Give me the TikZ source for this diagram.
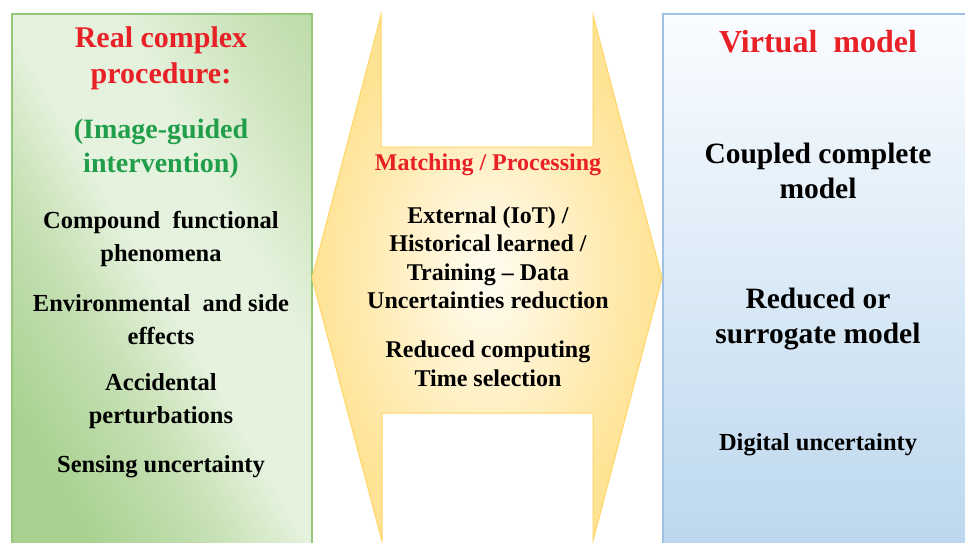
\documentclass[tikz,border=0pt]{standalone}
\usepackage{fontspec}
\setmainfont{Liberation Serif}
\usepackage{tikz}
\usetikzlibrary{positioning}
\definecolor{greenDark}{rgb}{0.66,0.82,0.56}
\definecolor{greenMid}{rgb}{0.78,0.88,0.71}
\definecolor{greenLight}{rgb}{0.90,0.95,0.87}
\definecolor{greenBorder}{rgb}{0.58,0.78,0.48}
\definecolor{blueTop}{rgb}{0.98,0.99,1}
\definecolor{blueBottom}{rgb}{0.73,0.84,0.93}
\definecolor{blueBorder}{rgb}{0.62,0.76,0.90}
\definecolor{yellowIn}{rgb}{1,0.99,0.95}
\definecolor{yellowOut}{rgb}{1,0.89,0.58}
\definecolor{yellowBorder}{rgb}{1,0.84,0.40}
\definecolor{titleRed}{rgb}{0.91,0.13,0.15}
\definecolor{titleGreen}{rgb}{0.13,0.62,0.29}
\pgfdeclarehorizontalshading{greenBand}{100bp}{color(0bp)=(greenDark); color(25bp)=(greenDark); color(40bp)=(greenMid); color(50bp)=(greenLight); color(62bp)=(greenLight); color(78bp)=(greenMid); color(100bp)=(greenDark)}

\begin{document}
\begin{tikzpicture}[x=1pt,y=-1pt]

            \tikzstyle{redTitle} = [align=center, titleRed, font=\bfseries\fontsize{30}{36}\selectfont];
            \tikzstyle{greenTitle} = [align=center, titleGreen, font=\bfseries\fontsize{28}{34}\selectfont];
            \tikzstyle{leftText} = [align=center, black, font=\bfseries\fontsize{24.5}{33}\selectfont];
            \tikzstyle{midTitle} = [align=center, titleRed, font=\bfseries\fontsize{24}{28}\selectfont];
            \tikzstyle{midText} = [align=center, black, font=\bfseries\fontsize{24}{28.5}\selectfont];
            \tikzstyle{rightTitle} = [align=center, titleRed, font=\bfseries\fontsize{32}{36}\selectfont];
            \tikzstyle{rightText} = [align=center, black, font=\bfseries\fontsize{29.5}{35}\selectfont];
            \tikzstyle{rightSmall} = [align=center, black, font=\bfseries\fontsize{24.5}{28}\selectfont];

            \useasboundingbox (0,0) rectangle (965,542);
            \clip (0,0) rectangle (965,542);
            \fill[white] (0,0) rectangle (965,542);

            \shade[shading=greenBand, shading angle=30]
                (12,14) rectangle (312,560);
            \draw[greenBorder, line width=1.2pt] (12,560) -- (12,14) -- (312,14) -- (312,560);

            \shade[top color=blueTop, bottom color=blueBottom]
                (663,14) rectangle (980,560);
            \draw[blueBorder, line width=1.2pt] (663,560) -- (663,14) -- (980,14);

            \shade[inner color=yellowIn, outer color=yellowOut]
                (312,278) -- (381,15) -- (381,147) -- (593,147) -- (593,15) -- (662,278)
                -- (593,541) -- (593,413) -- (382,413) -- (382,541) -- cycle;
            \draw[yellowBorder, line width=1pt]
                (312,278) -- (381,15) -- (381,147) -- (593,147) -- (593,15) -- (662,278)
                -- (593,541) -- (593,413) -- (382,413) -- (382,541) -- cycle;

            \node[redTitle] (realTitle) at (161,58) {Real complex\\procedure:};
            \node[greenTitle] (imageGuided) at (161,149) {(Image-guided\\intervention)};
            \node[leftText] (compound) at (161,239) {Compound~~functional\\phenomena};
            \node[leftText] (environment) at (161,320) {Environmental~~and side\\effects};
            \node[leftText] (accidental) at (161,401) {Accidental\\perturbations};
            \node[leftText] (sensing) at (161,467) {Sensing uncertainty};

            \node[midTitle] (matching) at (488,165) {Matching / Processing};
            \node[midText] (external) at (488,258) {External (IoT) /\\Historical learned /\\Training – Data\\Uncertainties reduction};
            \node[midText] (computing) at (488,364) {Reduced computing\\Time selection};

            \node[rightTitle] (virtual) at (818,42) {Virtual~~model};
            \node[rightText] (coupled) at (818,171) {Coupled complete\\model};
            \node[rightText] (reduced) at (818,319) {Reduced or\\surrogate model};
            \node[rightSmall] (digital) at (818,445) {Digital uncertainty};

\end{tikzpicture}
\end{document}
